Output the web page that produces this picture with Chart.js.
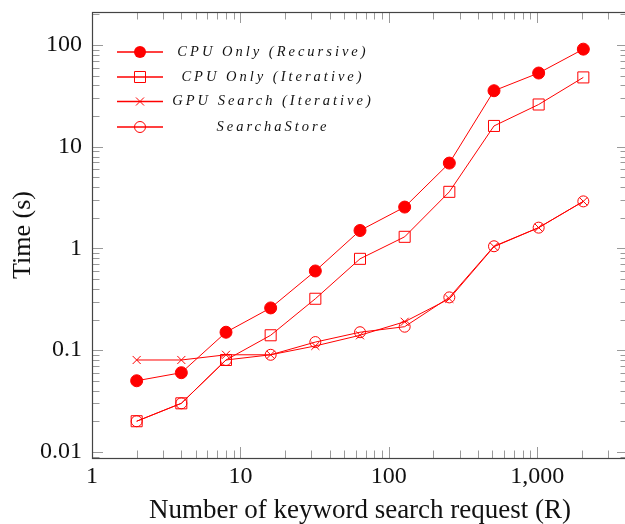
<!DOCTYPE html>
<html>
<head>
<meta charset="utf-8">
<script src="https://cdn.jsdelivr.net/npm/chart.js@4.4.1/dist/chart.umd.min.js"></script>
<style>
  html, body { margin: 0; padding: 0; background: #fff; }
  #wrap { width: 625px; height: 524px; }
</style>
</head>
<body>
<div id="wrap"><canvas id="chart" width="625" height="524"></canvas></div>
<script>
/* ---- Data ---- */
const requests      = [2, 4, 8, 16, 32, 64, 128, 256, 512, 1024, 2048];
const cpuRecursive  = [0.05, 0.06, 0.15, 0.26, 0.6, 1.5, 2.55, 6.9, 35.5, 53, 91];
const cpuIterative  = [0.02, 0.03, 0.08, 0.14, 0.32, 0.79, 1.3, 3.6, 16, 26, 48];
const gpuSearch     = [0.08, 0.08, 0.09, 0.09, 0.11, 0.14, 0.19, 0.32, 1.04, 1.6, 2.9];
const searchaStore  = [0.02, 0.03, 0.08, 0.09, 0.12, 0.15, 0.17, 0.33, 1.05, 1.6, 2.9];

const seriesNames   = ['CPU Only (Recursive)', 'CPU Only (Iterative)', 'GPU Search (Iterative)', 'SearchaStore'];
const xTickValues   = [1, 10, 100, 1000];
const xTickLabels   = ['1', '10', '100', '1,000'];
const yTickValues   = [0.01, 0.1, 1, 10, 100];
const yTickLabels   = ['0.01', '0.1', '1', '10', '100'];

const X_MIN = 1,      X_MAX = 4096;
const Y_MIN = 0.0087, Y_MAX = 211;

const RED    = '#ff0000';
const SERIF  = '"Liberation Serif", "Times New Roman", serif';

const toPoints = vals => requests.map((x, i) => ({ x, y: vals[i] }));

/* ---- Helpers ---- */
function drawMarker(ctx, style, x, y, r, filled) {
  ctx.save();
  ctx.strokeStyle = RED;
  ctx.fillStyle   = RED;
  ctx.lineWidth   = 1;
  ctx.beginPath();
  if (style === 'circle') {
    ctx.arc(x, y, r, 0, Math.PI * 2);
    filled ? ctx.fill() : ctx.stroke();
  } else if (style === 'rect') {
    const s = r * Math.SQRT1_2;
    ctx.rect(x - s, y - s, 2 * s, 2 * s);
    ctx.stroke();
  } else if (style === 'crossRot') {
    const s = r * Math.SQRT1_2;
    ctx.moveTo(x - s, y - s); ctx.lineTo(x + s, y + s);
    ctx.moveTo(x - s, y + s); ctx.lineTo(x + s, y - s);
    ctx.stroke();
  }
  ctx.restore();
}

function logTicks(min, max) {
  const out = [];
  for (let d = Math.floor(Math.log10(min)); d <= Math.ceil(Math.log10(max)); d++) {
    for (let m = 1; m <= 9; m++) {
      const v = m * Math.pow(10, d);
      if (v >= min * 0.999 && v <= max * 1.001) out.push({ v, major: m === 1 });
    }
  }
  return out;
}

// stop scales from reserving room for overhanging labels
function noOverhang(s) {
  s.paddingTop = s.paddingBottom = s.paddingLeft = s.paddingRight = 0;
}

/* ---- Plugins ---- */
// the original plot box runs a few px past the right edge of the picture
const widenRight = {
  id: 'widenRight',
  afterLayout(chart) {
    const extra = 3;
    const x = chart.scales.x;
    x.right += extra;
    x.width += extra;
    x.configure();
    chart.chartArea.right += extra;
    chart.chartArea.width += extra;
  }
};

const frameTicks = {
  id: 'frameTicks',
  beforeDatasetsDraw(chart) {
    const { ctx, chartArea: a, scales: { x, y } } = chart;
    ctx.save();
    ctx.strokeStyle = '#9a9a9a';
    ctx.lineWidth = 1;
    ctx.beginPath();
    logTicks(X_MIN, X_MAX).forEach(t => {
      const px = Math.round(x.getPixelForValue(t.v)) + 0.5;
      const len = t.major ? 11 : 7.5;
      ctx.moveTo(px, a.bottom); ctx.lineTo(px, a.bottom - len);
      ctx.moveTo(px, a.top);    ctx.lineTo(px, a.top + len);
    });
    logTicks(Y_MIN, Y_MAX).forEach(t => {
      const py = Math.round(y.getPixelForValue(t.v)) + 0.5;
      const len = t.major ? 11 : 7.5;
      ctx.moveTo(a.left, py);  ctx.lineTo(a.left + len, py);
      ctx.moveTo(a.right, py); ctx.lineTo(a.right - len, py);
    });
    ctx.stroke();
    ctx.strokeStyle = '#444';
    ctx.lineWidth = 1.2;
    ctx.strokeRect(Math.round(a.left) + 0.5, Math.round(a.top) + 0.5,
                   Math.round(a.right - a.left), Math.round(a.bottom - a.top));
    ctx.restore();
  }
};

const pgfLegend = {
  id: 'pgfLegend',
  afterDraw(chart) {
    const { ctx, chartArea: a } = chart;
    const rowY = [40, 65, 89.5, 115];
    ctx.save();
    chart.data.datasets.forEach((ds, i) => {
      const yy = a.top + rowY[i];
      ctx.strokeStyle = RED;
      ctx.lineWidth = 1.3;
      ctx.beginPath();
      ctx.moveTo(a.left + 25, yy);
      ctx.lineTo(a.left + 71, yy);
      ctx.stroke();
      drawMarker(ctx, ds.pointStyle, a.left + 48, yy, ds.pointRadius, ds.pointBackgroundColor === RED);
      ctx.fillStyle = '#111';
      ctx.font = `italic 14.5px ${SERIF}`;
      ctx.letterSpacing = '3px';
      ctx.textAlign = 'center';
      ctx.textBaseline = 'middle';
      ctx.fillText(ds.label, a.left + 181, yy);
    });
    ctx.restore();
  }
};

/* ---- Chart ---- */
const lineDs = (label, vals, style, radius, fill) => ({
  label,
  data: toPoints(vals),
  borderColor: RED,
  borderWidth: 1,
  pointStyle: style,
  pointRadius: radius,
  pointHoverRadius: radius,
  pointBorderColor: RED,
  pointBorderWidth: 1,
  pointBackgroundColor: fill ? RED : 'rgba(0,0,0,0)',
  tension: 0,
  fill: false,
  clip: false,
});

new Chart(document.getElementById('chart').getContext('2d'), {
  type: 'line',
  data: {
    datasets: [
      lineDs(seriesNames[0], cpuRecursive, 'circle', 6, true),
      lineDs(seriesNames[1], cpuIterative, 'rect', 7.8, false),
      lineDs(seriesNames[2], gpuSearch, 'crossRot', 5.7, false),
      lineDs(seriesNames[3], searchaStore, 'circle', 5.5, false),
    ],
  },
  options: {
    responsive: false,
    animation: false,
    layout: { autoPadding: false, padding: { top: 12, right: 0, bottom: 0, left: 0 } },
    plugins: { legend: { display: false }, tooltip: { enabled: false } },
    scales: {
      x: {
        type: 'logarithmic',
        min: X_MIN, max: X_MAX,
        grid: { display: false, drawTicks: false },
        border: { display: false },
        afterBuildTicks: s => { s.ticks = xTickValues.map(v => ({ value: v })); },
        afterFit: s => { s.height = 66; noOverhang(s); },
        ticks: {
          autoSkip: false, maxRotation: 0, padding: 7,
          color: '#111',
          font: { family: SERIF, size: 24, lineHeight: 1 },
          callback: v => xTickLabels[xTickValues.indexOf(v)] ?? '',
        },
        title: {
          display: true,
          text: 'Number of keyword search request (R)',
          color: '#111',
          font: { family: SERIF, size: 27, lineHeight: 1 },
          padding: { top: 0, bottom: 0 },
        },
      },
      y: {
        type: 'logarithmic',
        min: Y_MIN, max: Y_MAX,
        grid: { display: false, drawTicks: false },
        border: { display: false },
        afterBuildTicks: s => { s.ticks = yTickValues.map(v => ({ value: v })); },
        afterFit: s => { s.width = 92; noOverhang(s); },
        ticks: {
          autoSkip: false, padding: 10,
          color: '#111',
          font: { family: SERIF, size: 24, lineHeight: 1 },
          callback: v => yTickLabels[yTickValues.indexOf(v)] ?? '',
        },
        title: {
          display: true,
          text: 'Time (s)',
          color: '#111',
          font: { family: SERIF, size: 26, lineHeight: 1 },
          padding: { top: 10, bottom: 0 },
        },
      },
    },
  },
  plugins: [widenRight, frameTicks, pgfLegend],
});
</script>
</body>
</html>
